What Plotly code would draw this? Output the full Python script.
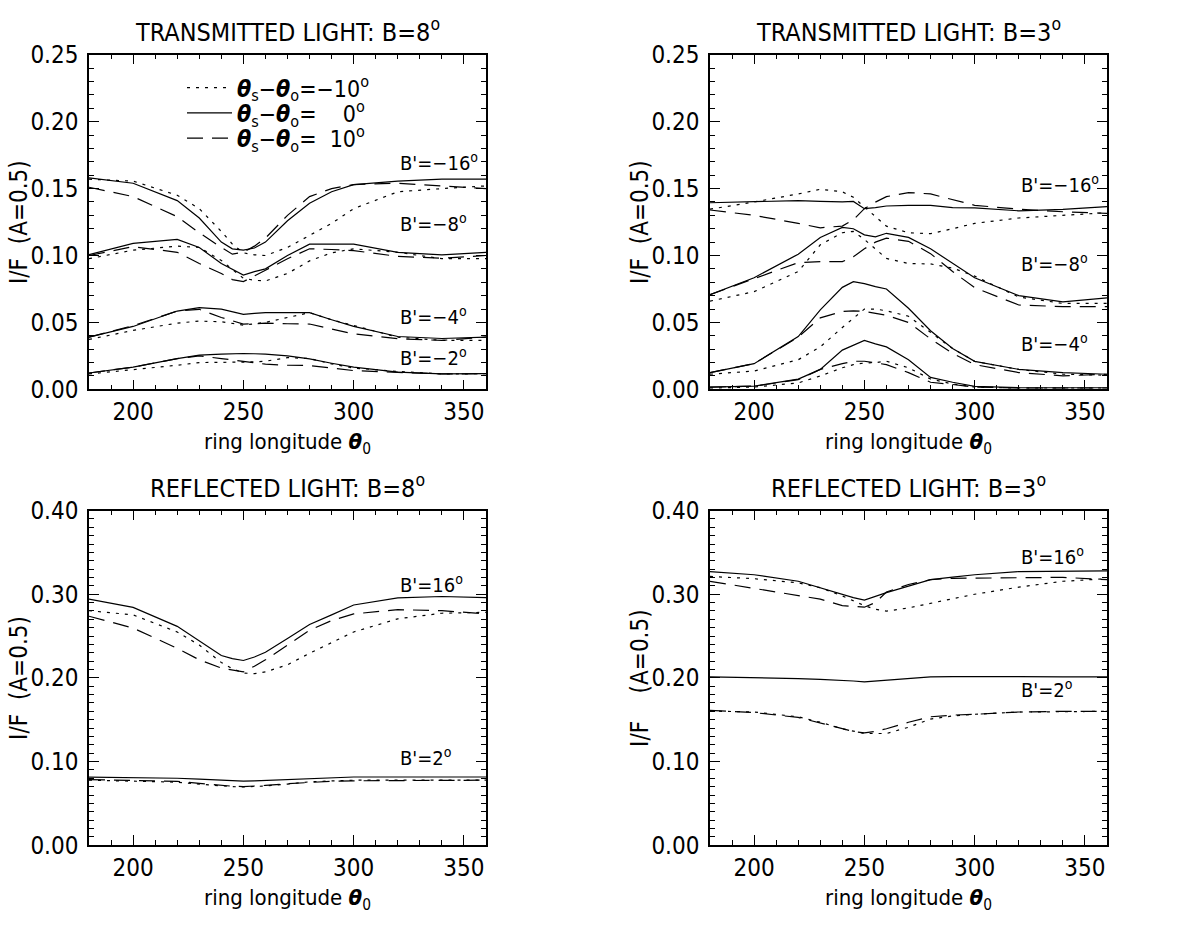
import plotly.graph_objects as go

FONT = "Liberation Sans Narrow, DejaVu Sans Condensed, Arial Narrow, Liberation Sans, sans-serif"

# ring longitude grid (deg)
lon = [180, 200, 220, 230, 240, 245, 250, 255, 260, 270, 280, 290, 300, 320, 340, 360]

# ---------- TRANSMITTED LIGHT, B = 8 deg ----------
t8_m16_dot = [.157, .1556, .145, .135, .118, .1085, .102, .1005, .100, .106, .115, .124, .135, .1476, .150, .152]
t8_m16_sol = [.158, .154, .141, .128, .110, .105, .104, .1056, .110, .126, .139, .1476, .153, .1556, .157, .157]
t8_m16_das = [.151, .144, .129, .117, .106, .101, .1024, .107, .113, .130, .144, .150, .153, .154, .152, .150]
t8_m8_dot = [.0976, .104, .107, .106, .0963, .090, .083, .0815, .081, .0866, .096, .102, .105, .1024, .0976, .0976]
t8_m8_sol = [.1007, .109, .112, .106, .094, .090, .0854, .088, .090, .100, .1085, .1085, .1085, .1024, .1005, .1024]
t8_m8_das = [.100, .1066, .1024, .094, .0866, .082, .0805, .085, .089, .0976, .105, .1045, .1037, .0993, .098, .100]
t8_m4_dot = [.0373, .044, .0495, .051, .0505, .049, .048, .049, .050, .0537, .0573, .052, .0476, .039, .0366, .0366]
t8_m4_sol = [.039, .047, .0585, .061, .060, .058, .056, .0567, .0573, .0573, .0573, .052, .047, .0395, .038, .039]
t8_m4_das = [.039, .0476, .0585, .0598, .0537, .051, .0488, .049, .0495, .049, .0488, .045, .0415, .0378, .0366, .039]
t8_m2_dot = [.0115, .0146, .018, .020, .020, .020, .020, .0205, .021, .0237, .023, .019, .0159, .0134, .0115, .0117]
t8_m2_sol = [.0122, .0166, .023, .0256, .0263, .0266, .0268, .0266, .0263, .025, .0227, .0195, .0166, .0129, .0115, .0117]
t8_m2_das = [.0122, .0166, .023, .025, .023, .022, .0207, .0197, .0188, .018, .0178, .016, .014, .0127, .0115, .0117]

# ---------- TRANSMITTED LIGHT, B = 3 deg ----------
t3_m16_dot = [.1346, .140, .146, .1495, .1476, .1435, .1363, .129, .1219, .117, .1163, .120, .124, .128, .130, .132]
t3_m16_sol = [.1394, .1404, .141, .1404, .140, .1404, .135, .1358, .137, .1375, .1375, .1358, .1356, .1334, .1345, .1365]
t3_m16_das = [.134, .130, .124, .1207, .122, .1267, .135, .1399, .144, .147, .146, .142, .1375, .1346, .1327, .1315]
t3_m8_dot = [.0659, .073, .088, .108, .117, .118, .112, .105, .0978, .094, .0937, .0906, .0846, .069, .0642, .0642]
t3_m8_sol = [.0707, .0834, .101, .1135, .121, .120, .1154, .114, .1166, .1135, .105, .094, .0834, .070, .0654, .0683]
t3_m8_das = [.0707, .0827, .0947, .0954, .0954, .099, .105, .110, .113, .1106, .1014, .088, .076, .063, .0618, .0618]
t3_m4_dot = [.0113, .0137, .0221, .0317, .0462, .0534, .060, .060, .0587, .0546, .0425, .0305, .0209, .0149, .0113, .0106]
t3_m4_sol = [.0125, .0192, .0394, .0594, .0762, .0805, .079, .0767, .075, .0606, .0438, .0305, .0209, .0149, .0125, .0113]
t3_m4_das = [.0125, .0192, .039, .0534, .0582, .0587, .0582, .057, .0553, .050, .0377, .0269, .0185, .0125, .0101, .0113]
t3_m2_dot = [.001, .0017, .0048, .010, .0161, .0185, .0197, .020, .021, .0161, .0077, .004, .0017, .001, .001, .001]
t3_m2_sol = [.0017, .0024, .0077, .0149, .0293, .033, .0365, .034, .0317, .0221, .0089, .0053, .0022, .0012, .0012, .0012]
t3_m2_das = [.0017, .0024, .0072, .0149, .0192, .021, .021, .020, .0185, .0125, .0053, .0036, .0017, .001, .001, .001]

# ---------- REFLECTED LIGHT, B = 8 deg ----------
r8_p16_dot = [.2804, .2753, .2549, .2392, .2184, .211, .2059, .205, .2071, .2157, .2294, .2424, .2549, .2706, .2773, .2784]
r8_p16_sol = [.2941, .2843, .2616, .2439, .2267, .223, .2208, .225, .2306, .247, .2639, .2753, .2871, .2957, .2973, .296]
r8_p16_das = [.2737, .2596, .2353, .2216, .2118, .209, .2071, .214, .2216, .2392, .2569, .2686, .2765, .2816, .2804, .2765]
r8_p2_dot = [.0777, .0768, .0754, .073, .0708, .070, .0696, .070, .0708, .073, .0758, .0768, .0777, .0777, .0777, .0777]
r8_p2_sol = [.0815, .081, .080, .079, .0775, .077, .0765, .077, .0775, .079, .080, .081, .0815, .0815, .0815, .0815]
r8_p2_das = [.0785, .0772, .0762, .074, .0715, .0705, .070, .0705, .0715, .0735, .0754, .0765, .077, .0775, .0777, .0777]

# ---------- REFLECTED LIGHT, B = 3 deg ----------
r3_p16_dot = [.3213, .3186, .3136, .3078, .298, .292, .2864, .282, .2798, .2837, .2891, .2953, .300, .3085, .3155, .3186]
r3_p16_sol = [.3271, .3233, .3155, .3078, .2992, .296, .293, .2975, .302, .3097, .3174, .3205, .3233, .3271, .3279, .3279]
r3_p16_das = [.3155, .307, .2992, .2942, .2864, .285, .2845, .290, .3027, .3116, .3174, .319, .3194, .3202, .3202, .3174]
r3_p2_dot = [.1604, .1592, .1535, .147, .1392, .136, .1335, .1335, .1335, .141, .1508, .1545, .1565, .1592, .160, .160]
r3_p2_sol = [.2012, .2004, .1992, .1983, .1973, .1963, .1953, .1963, .1973, .200, .2012, .2014, .2016, .2014, .2012, .2012]
r3_p2_das = [.1612, .1585, .1527, .146, .1385, .136, .1342, .136, .1392, .147, .1535, .1555, .1565, .1592, .160, .160]

# curve labels: (text, y value) per panel
t8_labels = [("B'=−16", 0.170), ("B'=−8", 0.124), ("B'=−4", 0.0545), ("B'=−2", 0.024)]
t3_labels = [("B'=−16", 0.1536), ("B'=−8", 0.0947), ("B'=−4", 0.0346)]
r8_labels = [("B'=16", 0.3127), ("B'=2", 0.106)]
r3_labels = [("B'=16", 0.3456), ("B'=2", 0.1873)]
label_lon = 320

titles = ["TRANSMITTED LIGHT: B=8<sup>o</sup>", "TRANSMITTED LIGHT: B=3<sup>o</sup>",
          "REFLECTED LIGHT: B=8<sup>o</sup>", "REFLECTED LIGHT: B=3<sup>o</sup>"]
legend_names = ["<b><i>θ</i></b><sub>s</sub>−<b><i>θ</i></b><sub>o</sub>=−10<sup>o</sup>",
                "<b><i>θ</i></b><sub>s</sub>−<b><i>θ</i></b><sub>o</sub>=\u2007\u20070<sup>o</sup>",
                "<b><i>θ</i></b><sub>s</sub>−<b><i>θ</i></b><sub>o</sub>=\u200710<sup>o</sup>"]

W, H = 1190, 930
# panel pixel boxes (x0, x1, y0, y1) from top-left of the page
boxes = [(89, 486, 42, 387), (710, 1107, 42, 387), (89, 486, 512, 857), (710, 1107, 512, 857)]

DASHES = {"dot": "3px,6px", "sol": "solid", "das": "16px,9px"}

panels = [
    ("x", "y", [(t8_m16_dot, t8_m16_sol, t8_m16_das), (t8_m8_dot, t8_m8_sol, t8_m8_das),
                (t8_m4_dot, t8_m4_sol, t8_m4_das), (t8_m2_dot, t8_m2_sol, t8_m2_das)], t8_labels),
    ("x2", "y2", [(t3_m16_dot, t3_m16_sol, t3_m16_das), (t3_m8_dot, t3_m8_sol, t3_m8_das),
                  (t3_m4_dot, t3_m4_sol, t3_m4_das), (t3_m2_dot, t3_m2_sol, t3_m2_das)], t3_labels),
    ("x3", "y3", [(r8_p16_dot, r8_p16_sol, r8_p16_das), (r8_p2_dot, r8_p2_sol, r8_p2_das)], r8_labels),
    ("x4", "y4", [(r3_p16_dot, r3_p16_sol, r3_p16_das), (r3_p2_dot, r3_p2_sol, r3_p2_das)], r3_labels),
]

fig = go.Figure()
legend_ids = ["legend", "legend2", "legend3"]
for pi, (xa, ya, groups, labels) in enumerate(panels):
    for gi, grp in enumerate(groups):
        for si, (vals, key) in enumerate(zip(grp, ["dot", "sol", "das"])):
            show = (pi == 0 and gi == 0)
            fig.add_trace(go.Scatter(
                x=lon, y=vals, xaxis=xa, yaxis=ya, mode="lines",
                line=dict(color="black", width=1.2, dash=DASHES[key]),
                name=legend_names[si], showlegend=show, legend=legend_ids[si],
                hoverinfo="skip"))
    for txt, yv in labels:
        fig.add_annotation(x=label_lon, y=yv, xref=xa, yref=ya, text=txt + "<sup>o</sup>",
                           showarrow=False, xanchor="left", yanchor="middle",
                           font=dict(family=FONT, size=20, color="black"))

axis_common = dict(showline=True, linecolor="black", linewidth=1.5, mirror="allticks",
                   ticks="inside", ticklen=10, tickwidth=1.2, tickcolor="black",
                   showgrid=False, zeroline=False,
                   tickfont=dict(family=FONT, size=24, color="black"))

layout = dict(width=W, height=H, margin=dict(l=0, r=0, t=0, b=0),
              paper_bgcolor="white", plot_bgcolor="white", showlegend=True)

for i, (x0, x1, y0, y1) in enumerate(boxes):
    sfx = "" if i == 0 else str(i + 1)
    top = i < 2
    layout["xaxis" + sfx] = dict(axis_common, domain=[x0 / W, x1 / W], range=[180, 360],
                                 dtick=50, tick0=0, anchor="y" + sfx, ticklabelstandoff=0,
                                 minor=dict(dtick=10, ticklen=5, ticks="inside", tickcolor="black",
                                            tickwidth=1.2, showgrid=False))
    layout["yaxis" + sfx] = dict(axis_common, domain=[1 - y1 / H, 1 - y0 / H],
                                 range=[0, 0.25] if top else [0, 0.40],
                                 dtick=0.05 if top else 0.10, tickformat=".2f",
                                 anchor="x" + sfx, ticklabelstandoff=4,
                                 minor=dict(dtick=0.01, ticklen=5, ticks="inside", tickcolor="black",
                                            tickwidth=1.2, showgrid=False))
    xc = (x0 + x1) / 2
    # panel title
    fig.add_annotation(x=xc / W, y=1 - (y0 - 25) / H, xref="paper", yref="paper",
                       text=titles[i], showarrow=False, xanchor="center", yanchor="middle",
                       font=dict(family=FONT, size=25, color="black"))
    # x-axis title
    fig.add_annotation(x=xc / W, y=1 - (y1 + 56) / H, xref="paper", yref="paper",
                       text="ring longitude <b><i>θ</i></b><sub>0</sub>", showarrow=False,
                       xanchor="center", yanchor="middle",
                       font=dict(family=FONT, size=22, color="black"))
    # y-axis title
    ytxt = "I/F\u00a0\u00a0(A=0.5)" if i != 3 else "I/F\u00a0\u00a0\u00a0\u00a0(A=0.5)"
    fig.add_annotation(x=(x0 - 70) / W, y=1 - (y0 + y1) / 2 / H, xref="paper", yref="paper",
                       text=ytxt, showarrow=False, textangle=-90,
                       xanchor="center", yanchor="middle",
                       font=dict(family=FONT, size=24, color="black"))

row_y = [76, 102, 128]
for k, lid in enumerate(legend_ids):
    layout[lid] = dict(x=(188 - 6) / W, y=1 - row_y[k] / H, xanchor="left", yanchor="middle",
                       bgcolor="rgba(0,0,0,0)", borderwidth=0, itemwidth=45,
                       font=dict(family=FONT, size=23, color="black"))

fig.update_layout(**layout)
fig.write_html("out.html")
